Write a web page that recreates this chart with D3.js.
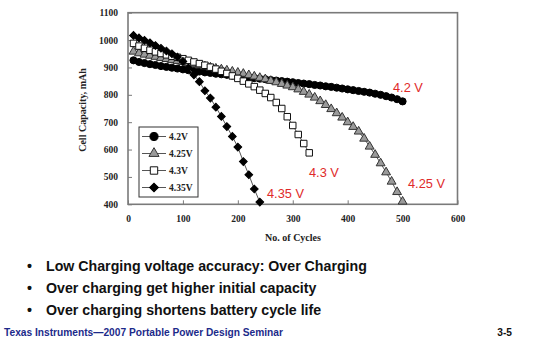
<!DOCTYPE html>
<html>
<head>
<meta charset="utf-8">
<script src="https://cdn.jsdelivr.net/npm/d3@7"></script>
<style>
  html, body { margin: 0; padding: 0; background: #fff; }
  svg { display: block; }
</style>
</head>
<body>
<svg id="chart" width="540" height="346"></svg>
<script>
// Cycle-life test: capacity (mAh) vs. number of charge/discharge cycles
const cycles42 = d3.range(10, 501, 10);
const cap42 = [926, 920, 916, 912, 909, 905, 902, 899, 896, 893,
               890, 887, 885, 882, 880, 877, 875, 873, 870, 868,
               866, 863, 861, 859, 857, 854, 852, 850, 848, 846,
               843, 841, 839, 836, 834, 831, 829, 826, 823, 820,
               817, 814, 811, 808, 804, 800, 795, 790, 784, 776];

const cycles425 = d3.range(10, 501, 10);
const cap425 = [958, 952, 947, 943, 939, 935, 931, 927, 924, 920,
                916, 912, 908, 904, 900, 896, 893, 889, 885, 881,
                877, 872, 867, 862, 857, 851, 846, 840, 834, 828,
                820, 811, 801, 790, 777, 763, 748, 733, 717, 700,
                683, 666, 640, 611, 581, 550, 517, 483, 445, 410];

const cycles43 = d3.range(10, 331, 10);
const cap43 = [988, 978, 970, 963, 957, 951, 946, 941, 937, 932,
               926, 920, 914, 908, 901, 894, 886, 878, 869, 860,
               850, 840, 830, 817, 805, 790, 772, 750, 720, 688,
               655, 622, 588];

const cycles435 = d3.range(10, 241, 10);
const cap435 = [1017, 1008, 999, 990, 980, 970, 960, 950, 938, 922,
                898, 873, 848, 815, 788, 755, 721, 684, 648, 609,
                556, 508, 456, 408];

const seriesNames = ["4.2V", "4.25V", "4.3V", "4.35V"];
const curveLabels = ["4.2 V", "4.25 V", "4.3 V", "4.35 V"];
const xTicks = [0, 100, 200, 300, 400, 500, 600];
const yTicks = [400, 500, 600, 700, 800, 900, 1000, 1100];

const bullets = [
  "Low Charging voltage accuracy: Over Charging",
  "Over charging get higher initial capacity",
  "Over charging shortens battery cycle life"
];
const footer = "Texas Instruments\u20142007 Portable Power Design Seminar";
const pageNo = "3-5";

const svg = d3.select("#chart");
const serif = "'Liberation Serif', 'Times New Roman', serif";
const sans = "'Liberation Sans', Arial, sans-serif";

const x = d3.scaleLinear().domain([0, 600]).range([128, 457.5]);
const y = d3.scaleLinear().domain([400, 1100]).range([204.3, 12.7]);

// plot frame
svg.append("rect")
  .attr("x", x(0)).attr("y", y(1100))
  .attr("width", x(600) - x(0)).attr("height", y(400) - y(1100))
  .attr("fill", "#fff").attr("stroke", "#7a7a7a").attr("stroke-width", 1.6);

// axes with inward ticks
const fmt = d3.format("d");
const xAxis = svg.append("g").attr("transform", `translate(0,${y(400)})`)
  .call(d3.axisBottom(x).tickValues(xTicks).tickFormat(fmt).tickSizeInner(-4).tickSizeOuter(0).tickPadding(11));
const yAxis = svg.append("g").attr("transform", `translate(${x(0)},0)`)
  .call(d3.axisLeft(y).tickValues(yTicks).tickFormat(fmt).tickSizeInner(-4).tickSizeOuter(0).tickPadding(10));
[xAxis, yAxis].forEach(g => {
  g.select(".domain").remove();
  g.selectAll("line").attr("stroke", "#7a7a7a");
  g.selectAll("text").attr("font-family", serif).attr("font-weight", "bold")
    .attr("font-size", 9.5).attr("fill", "#222");
});

svg.append("text")
  .attr("x", 293).attr("y", 241)
  .attr("text-anchor", "middle")
  .attr("font-family", serif).attr("font-weight", "bold").attr("font-size", 10)
  .attr("fill", "#222").text("No. of Cycles");

svg.append("text")
  .attr("transform", "translate(86,110) rotate(-90)")
  .attr("text-anchor", "middle")
  .attr("font-family", serif).attr("font-weight", "bold").attr("font-size", 10)
  .attr("fill", "#222").text("Cell Capacity, mAh");

// marker styles per series
const styles = [
  { sym: d3.symbolCircle, size: 40, fill: "#000", stroke: "#000", rot: 0 },
  { sym: d3.symbolTriangle, size: 34, fill: "#9a9a9a", stroke: "#333", rot: 0 },
  { sym: d3.symbolSquare, size: 42, fill: "#fff", stroke: "#111", rot: 0 },
  { sym: d3.symbolSquare, size: 30, fill: "#000", stroke: "#000", rot: 45 }
];
const series = [
  { c: cycles42, v: cap42 },
  { c: cycles425, v: cap425 },
  { c: cycles43, v: cap43 },
  { c: cycles435, v: cap435 }
];

const line = d3.line().x(d => x(d[0])).y(d => y(d[1]));
const plot = svg.append("g");

series.forEach((s, i) => {
  const pts = s.c.map((c, k) => [c, s.v[k]]);
  const st = styles[i];
  const g = plot.append("g");
  g.append("path").datum(pts).attr("d", line)
    .attr("fill", "none").attr("stroke", "#555").attr("stroke-width", 1);
  g.selectAll("path.m").data(pts).join("path").attr("class", "m")
    .attr("d", d3.symbol().type(st.sym).size(st.size))
    .attr("transform", d => `translate(${x(d[0])},${y(d[1])}) rotate(${st.rot})`)
    .attr("fill", st.fill).attr("stroke", st.stroke).attr("stroke-width", 1);
});

// legend
const lg = svg.append("g");
lg.append("rect").attr("x", 139).attr("y", 127).attr("width", 59).attr("height", 70)
  .attr("fill", "#fff").attr("stroke", "#333").attr("stroke-width", 1);
const legendY = [136.5, 153.5, 170.5, 187.5];
seriesNames.forEach((name, i) => {
  const st = styles[i];
  lg.append("line").attr("x1", 142).attr("x2", 166)
    .attr("y1", legendY[i]).attr("y2", legendY[i])
    .attr("stroke", "#555").attr("stroke-width", 1);
  lg.append("path")
    .attr("d", d3.symbol().type(st.sym).size(st.size * 1.3))
    .attr("transform", `translate(154,${legendY[i]}) rotate(${st.rot})`)
    .attr("fill", st.fill).attr("stroke", st.stroke).attr("stroke-width", 1);
  lg.append("text").attr("x", 169).attr("y", legendY[i] + 3.3)
    .attr("font-family", serif).attr("font-weight", "bold").attr("font-size", 9.5)
    .attr("fill", "#222").text(name);
});

// red curve labels, placed beside each series' last point
const labelPos = [
  { x: 393, y: 92 },
  { x: 408, y: 188 },
  { x: 309, y: 177 },
  { x: 267, y: 198 }
];
curveLabels.forEach((t, i) => {
  svg.append("text").attr("x", labelPos[i].x).attr("y", labelPos[i].y)
    .attr("font-family", sans).attr("font-size", 12.8)
    .attr("fill", "#e02a2a").text(t);
});

// bullet points
bullets.forEach((t, i) => {
  const by = 271 + i * 21.8;
  svg.append("text").attr("x", 27).attr("y", by)
    .attr("font-family", sans).attr("font-weight", "bold").attr("font-size", 14.2)
    .attr("fill", "#111").text("\u2022");
  svg.append("text").attr("x", 46).attr("y", by)
    .attr("font-family", sans).attr("font-weight", "bold").attr("font-size", 14.2)
    .attr("fill", "#111").text(t);
});

svg.append("text").attr("x", 4).attr("y", 336)
  .attr("font-family", sans).attr("font-weight", "bold").attr("font-size", 10.2)
  .attr("fill", "#1c2a8a").text(footer);
svg.append("text").attr("x", 512).attr("y", 336).attr("text-anchor", "end")
  .attr("font-family", sans).attr("font-weight", "bold").attr("font-size", 10.2)
  .attr("fill", "#111").text(pageNo);
</script>
</body>
</html>
